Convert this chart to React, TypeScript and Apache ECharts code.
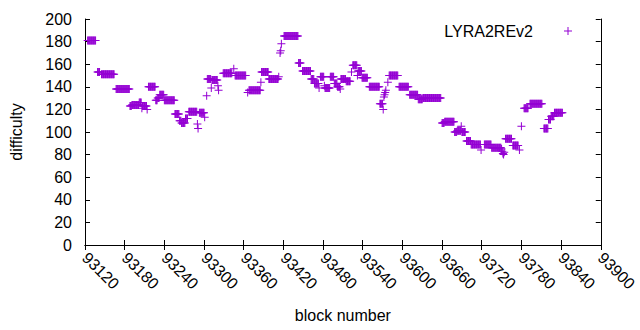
import React, { useEffect, useRef } from "react";
import * as echarts from "echarts";

// Runs of consecutive blocks that share one difficulty value
const runStart = [
  93124, 93139, 93145, 93167, 93188, 93191, 93202, 93206, 93207, 93214,
  93216, 93227, 93230, 93233, 93240, 93256, 93263, 93266, 93272, 93277,
  93290, 93291, 93293, 93301, 93304, 93305, 93311, 93312, 93321, 93322,
  93329, 93345, 93347, 93366, 93368, 93386, 93387, 93398, 93413, 93415,
  93416, 93417, 93421, 93443, 93449, 93462, 93467, 93474, 93476, 93482,
  93483, 93491, 93497, 93502, 93506, 93507, 93515, 93523, 93525, 93532,
  93533, 93539, 93550, 93566, 93571, 93572, 93573, 93574, 93575, 93578,
  93580, 93595, 93611, 93624, 93631, 93660, 93664, 93679, 93683, 93689,
  93690, 93697, 93704, 93719, 93724, 93735, 93750, 93751, 93752, 93753,
  93754, 93756, 93767, 93777, 93780, 93784, 93793, 93814, 93821, 93825,
  93830,
];
const runEnd = [
  93136, 93142, 93164, 93187, 93190, 93201, 93205, 93206, 93213, 93214,
  93226, 93229, 93232, 93239, 93255, 93262, 93265, 93271, 93275, 93289,
  93290, 93291, 93300, 93301, 93304, 93310, 93311, 93320, 93321, 93322,
  93342, 93345, 93363, 93366, 93385, 93386, 93397, 93412, 93413, 93415,
  93416, 93417, 93442, 93446, 93461, 93466, 93473, 93474, 93481, 93482,
  93490, 93496, 93501, 93505, 93506, 93514, 93521, 93523, 93531, 93532,
  93538, 93547, 93565, 93570, 93571, 93572, 93573, 93574, 93575, 93578,
  93593, 93609, 93623, 93630, 93658, 93663, 93678, 93682, 93688, 93689,
  93695, 93703, 93718, 93719, 93734, 93749, 93750, 93751, 93752, 93753,
  93754, 93765, 93775, 93777, 93780, 93790, 93811, 93820, 93824, 93829,
  93842,
];
const runValue = [
  181, 153, 151, 138, 123, 124, 126, 121, 123, 120,
  140, 128, 130, 133, 128, 116, 110, 108, 112, 118,
  107, 103, 117, 113, 132, 147, 139, 146, 141, 137,
  152, 156, 150, 135, 137, 144, 153, 147, 149, 170,
  172, 178, 185, 161, 154, 147, 143, 139, 149, 141,
  139, 149, 143, 140, 138, 147, 145, 153, 159, 150,
  154, 148, 140, 125, 120, 131, 133, 135, 137, 144,
  150, 140, 133, 129, 130, 108, 109, 100, 101, 105,
  100, 92, 89, 84, 89, 86, 85, 83, 81, 80,
  82, 94, 88, 84, 105, 121, 125, 103, 111, 114,
  117,
];

const seriesName = "LYRA2REv2";
const xTickMin = 93120;
const xTickMax = 93900;
const xTickStep = 60;
const yTickMin = 0;
const yTickMax = 200;
const yTickStep = 20;

const COLOR = "#9400D3";
const FONT = "Liberation Sans";
const CROSS = "path://M0,3.5H3.5V0H4.5V3.5H8V4.5H4.5V8H3.5V4.5H0Z";

function buildPoints(): [number, number][] {
  const pts: [number, number][] = [];
  for (let i = 0; i < runStart.length; i++) {
    for (let b = runStart[i]; b <= runEnd[i]; b++) {
      pts.push([b, runValue[i]]);
    }
  }
  return pts;
}

export default function App() {
  const ref = useRef<HTMLDivElement>(null);
  useEffect(() => {
    if (!ref.current) return;
    const chart = echarts.init(ref.current, undefined, { renderer: "svg" });
    const axisLine = { show: true, lineStyle: { color: "#000", width: 1 } };
    const labelStyle = { color: "#000", fontFamily: FONT, fontSize: 16 };
    const tick = { show: true, inside: true, length: 5, lineStyle: { color: "#000" } };
    chart.setOption({
      animation: false,
      backgroundColor: "#fff",
      textStyle: { fontFamily: FONT },
      grid: { left: 84, top: 19, width: 526, height: 226, containLabel: false },
      legend: {
        data: [seriesName],
        right: 68,
        top: 23,
        padding: 0,
        align: "right",
        itemWidth: 60,
        itemHeight: 8,
        icon: CROSS,
        textStyle: labelStyle,
      },
      xAxis: [
        {
          type: "value",
          min: xTickMin,
          max: xTickMax,
          interval: xTickStep,
          position: "bottom",
          name: "block number",
          nameLocation: "middle",
          nameGap: 62,
          nameTextStyle: labelStyle,
          axisLine,
          axisTick: tick,
          axisLabel: {
            ...labelStyle,
            rotate: -45,
            margin: 10,
            formatter: (v: number) => String(v),
          },
          splitLine: { show: false },
        },
        {
          type: "value",
          min: xTickMin,
          max: xTickMax,
          interval: xTickStep,
          position: "top",
          axisLine,
          axisTick: tick,
          axisLabel: { show: false },
          splitLine: { show: false },
        },
      ],
      yAxis: [
        {
          type: "value",
          min: yTickMin,
          max: yTickMax,
          interval: yTickStep,
          position: "left",
          name: "difficulty",
          nameLocation: "middle",
          nameGap: 61,
          nameTextStyle: labelStyle,
          axisLine,
          axisTick: tick,
          axisLabel: { ...labelStyle, margin: 13 },
          splitLine: { show: false },
        },
        {
          type: "value",
          min: yTickMin,
          max: yTickMax,
          interval: yTickStep,
          position: "right",
          axisLine,
          axisTick: tick,
          axisLabel: { show: false },
          splitLine: { show: false },
        },
      ],
      series: [
        {
          name: seriesName,
          type: "scatter",
          xAxisIndex: 0,
          yAxisIndex: 0,
          symbol: CROSS,
          symbolSize: 8,
          itemStyle: { color: COLOR, opacity: 1 },
          emphasis: { disabled: true },
          data: buildPoints(),
        },
      ],
    });
    return () => chart.dispose();
  }, []);
  return (
    <div
      ref={ref}
      style={{ position: "fixed", left: 0, top: 0, width: 640, height: 330, background: "#fff" }}
    />
  );
}
